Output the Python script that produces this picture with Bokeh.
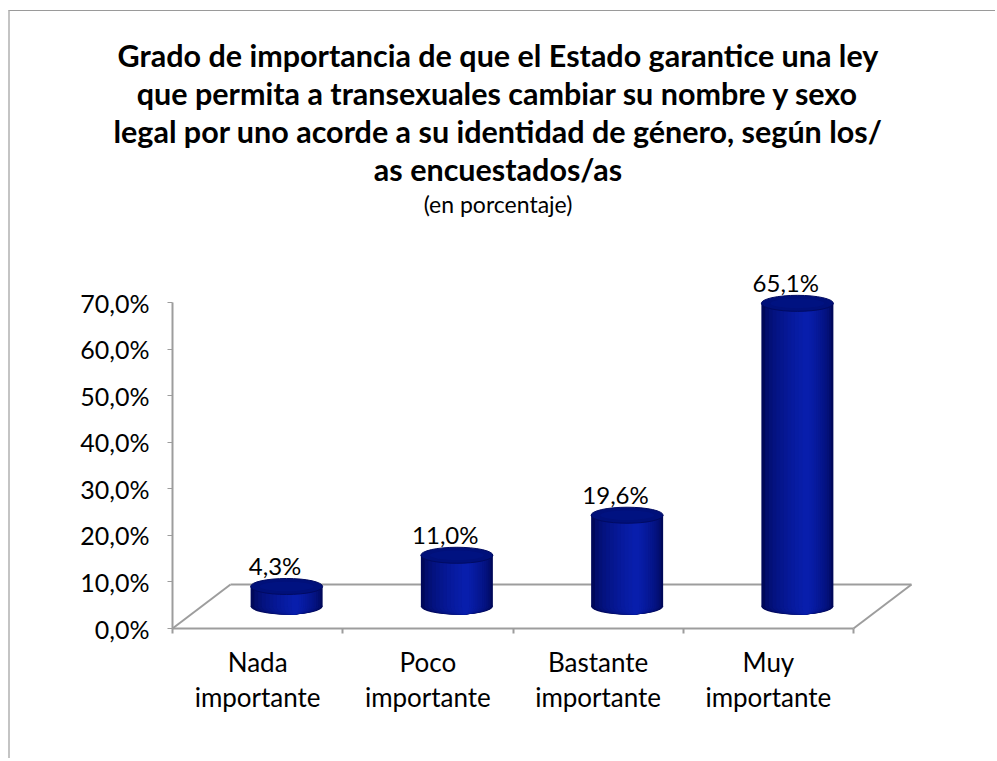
from bokeh.plotting import figure
from bokeh.models import Title, FixedTicker, Range1d, ColumnDataSource
from bokeh.core.properties import value
from bokeh.embed import file_html
from bokeh.resources import INLINE

# ---------------- data ----------------
categories = ["Nada\nimportante", "Poco\nimportante", "Bastante\nimportante", "Muy\nimportante"]
values = [4.3, 11.0, 19.6, 65.1]
value_labels = ["4,3%", "11,0%", "19,6%", "65,1%"]
y_ticks = [0, 10, 20, 30, 40, 50, 60, 70]
y_tick_labels = ["0,0%", "10,0%", "20,0%", "30,0%", "40,0%", "50,0%", "60,0%", "70,0%"]
title_lines = [
    "Grado de importancia de que el Estado garantice una ley",
    "que permita a transexuales cambiar su nombre y sexo",
    "legal por uno acorde a su identidad de género, según los/",
    "as encuestados/as",
]
subtitle = "(en porcentaje)"

# ---------------- geometry / style ----------------
FONT = "Lato"
X_PX = 170.25          # pixels per category
Y_PX = 4.657           # pixels per percent
W, H = 987, 748
DX = 58 / X_PX         # 3D depth offset (x)
DY = 44 / Y_PX         # 3D depth offset (y)
BW = 72 / X_PX         # cylinder width
EH = 16 / Y_PX         # ellipse height
AX_COL = "#9d9d9d"
TOP_BORDER = 207

n = len(values)
x_start = -152 / X_PX
x_end = 803 / X_PX
y_top = (628 - 11 - TOP_BORDER) / Y_PX
y_start = -(740 - 628) / Y_PX

p = figure(width=W, height=H, output_backend="svg", toolbar_location=None,
           x_range=Range1d(x_start, x_end), y_range=Range1d(y_start, y_top),
           min_border_left=10, min_border_right=22, min_border_bottom=19,
           min_border_top=TOP_BORDER, outline_line_color=None)
p.styles = {"border-top": "1px solid #9a9a9a", "border-left": "2px solid #c4c4c4",
            "margin-top": "10px", "margin-left": "8px"}
p.grid.visible = False

# titles (innermost first)
p.add_layout(Title(text=subtitle, align="center", text_font=FONT,
                   text_font_size="23px", text_font_style="normal",
                   text_color="black", standoff=2), "above")
for line in reversed(title_lines):
    p.add_layout(Title(text=line, align="center", text_font=FONT,
                       text_font_size="30.5px", text_font_style="bold",
                       text_color="black", standoff=0), "above")

# y axis at data x=0
yax = p.yaxis[0]
yax.fixed_location = 0
yax.bounds = (0, 70)
yax.ticker = FixedTicker(ticks=y_ticks)
yax.major_label_overrides = {t: l for t, l in zip(y_ticks, y_tick_labels)}
yax.axis_line_color = AX_COL
yax.axis_line_width = 2
yax.major_tick_line_color = AX_COL
yax.major_tick_in = 0
yax.major_tick_out = 5
yax.minor_tick_line_color = None
yax.major_label_standoff = 18
yax.major_label_text_font = FONT
yax.major_label_text_font_size = "25px"
yax.major_label_text_color = "black"

# x axis at the floor's front edge (y = 0)
centers = [i + 0.5 for i in range(n)]
xax = p.xaxis[0]
xax.fixed_location = 0
xax.bounds = (0, n)
xax.ticker = FixedTicker(ticks=centers, minor_ticks=list(range(n + 1)))
xax.major_label_overrides = {c: l for c, l in zip(centers, categories)}
xax.axis_line_color = AX_COL
xax.axis_line_width = 2
xax.major_tick_line_color = None
xax.major_tick_in = 0
xax.major_tick_out = 5
xax.minor_tick_line_color = AX_COL
xax.minor_tick_line_width = 2
xax.minor_tick_in = 0
xax.minor_tick_out = 5
xax.major_label_standoff = 12
xax.major_label_text_font = FONT
xax.major_label_text_font_size = "26px"
xax.major_label_text_color = "black"
xax.major_label_text_line_height = 1.1

# 3D floor outline (back edge + side diagonals)
p.segment(x0=[DX, 0, n], y0=[DY, 0, 0], x1=[n + DX, DX, n + DX], y1=[DY, DY, DY],
          line_color=AX_COL, line_width=2)

# cylinders
cx = [c + DX / 2 for c in centers]
base = [DY / 2] * n
tops = [DY / 2 + v for v in values]
dark = (0, 8, 90)
bright = (8, 30, 172)
N = 12
for k in range(N):
    t = k / (N - 1)
    frac = 1 - 0.9 * t
    shift = 0.12 * BW * t
    col = tuple(int(round(d + (b - d) * (t ** 0.6))) for d, b in zip(dark, bright))
    hexcol = "#%02x%02x%02x" % col
    xs = [c + shift for c in cx]
    src = ColumnDataSource(dict(x=xs, b=base, t=tops))
    p.ellipse(x="x", y="b", width=BW * frac, height=EH, source=src,
              fill_color=hexcol, line_color=None)
    p.vbar(x="x", bottom="b", top="t", width=BW * frac, source=src,
           fill_color=hexcol, line_color=None)

# top caps
cap = ColumnDataSource(dict(x=cx, y=tops))
p.ellipse(x="x", y="y", width=BW, height=EH, source=cap,
          fill_color="#00107a", line_color="#000b62", line_width=1)
p.ellipse(x="x", y="y", width=BW * 0.75, height=EH * 0.6, source=cap,
          fill_color="#001486", line_color=None, fill_alpha=0.6)

# value labels
lab = ColumnDataSource(dict(x=[c + 0.3 * DX for c in centers],
                            y=[t + 6 / Y_PX for t in tops], txt=value_labels))
p.text(x="x", y="y", text="txt", source=lab, text_align="center",
       text_baseline="bottom", text_font=value(FONT),
       text_font_size="24px", text_color="black")

open("out.html", "w").write(file_html(p, INLINE))
